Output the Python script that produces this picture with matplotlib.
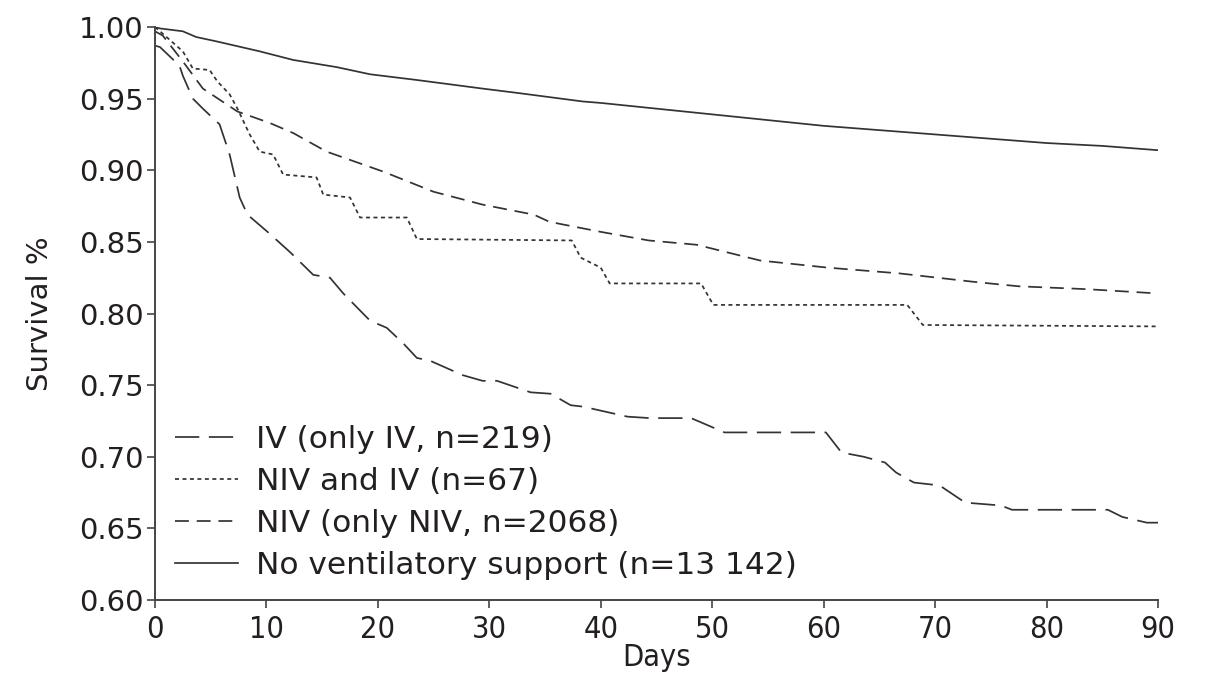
import matplotlib
matplotlib.use("Agg")
import matplotlib.pyplot as plt

# Kaplan-Meier style survival curves
days_none = [0, 0.45, 2.5, 3.7, 5.5, 9.4, 12.4, 16.3, 19.3, 23.5, 29.4, 32.5, 38.4, 40,
             45, 50, 55, 60, 65, 70, 75, 80, 85, 90]
surv_none = [1.000, 0.999, 0.997, 0.993, 0.990, 0.983, 0.977, 0.972, 0.967, 0.963, 0.957, 0.954,
             0.948, 0.947, 0.943, 0.939, 0.935, 0.931, 0.928, 0.925, 0.922, 0.919, 0.917, 0.914]

days_niv = [0, 0.7, 2.5, 4.3, 7.4, 10.3, 12.4, 15.4, 20.5, 25, 29.4, 34, 35.4, 40, 44.3,
            48.6, 54.3, 60.4, 66.8, 73.6, 77.5, 83.6, 90]
surv_niv = [0.997, 0.994, 0.976, 0.957, 0.941, 0.933, 0.926, 0.913, 0.899, 0.885, 0.876, 0.869,
            0.864, 0.857, 0.851, 0.848, 0.837, 0.832, 0.828, 0.822, 0.819, 0.817, 0.814]

days_both = [0, 0.45, 2.5, 3.4, 4.9, 5.6, 6.7, 7.4, 8.5, 9.4, 10.6, 11.5, 14.5, 15.1, 17.5,
             18.4, 22.6, 23.5, 37.4, 38.2, 40, 40.8, 49, 50.1, 67.5, 68.9, 90]
surv_both = [1.000, 0.997, 0.983, 0.971, 0.970, 0.962, 0.953, 0.943, 0.925, 0.913, 0.911, 0.897,
             0.895, 0.883, 0.881, 0.867, 0.867, 0.852, 0.851, 0.839, 0.832, 0.821, 0.821, 0.806,
             0.806, 0.792, 0.791]

days_iv = [0, 0.45, 2.2, 2.5, 3.4, 4.3, 5.8, 6.7, 7.6, 8.3, 10.1, 12.1, 14.2, 15.7, 16.9, 19.3,
           20.8, 22.3, 23.5, 24.7, 27.6, 29.4, 30.7, 33.7, 35.5, 37.3, 38.4, 42.4, 44.4, 48.1,
           51.1, 60.2, 61.6, 63.6, 65.5, 66.5, 68.1, 70.4, 72.7, 75.9, 76.9, 85.5, 86.8, 89, 90]
surv_iv = [0.987, 0.986, 0.973, 0.966, 0.950, 0.943, 0.932, 0.911, 0.881, 0.869, 0.857, 0.843,
           0.827, 0.825, 0.814, 0.795, 0.790, 0.779, 0.769, 0.767, 0.757, 0.753, 0.753, 0.745,
           0.744, 0.736, 0.735, 0.728, 0.727, 0.727, 0.717, 0.717, 0.703, 0.700, 0.696, 0.689,
           0.682, 0.680, 0.668, 0.666, 0.663, 0.663, 0.658, 0.654, 0.654]

labels = ["IV (only IV, n=219)", "NIV and IV (n=67)", "NIV (only NIV, n=2068)",
          "No ventilatory support (n=13 142)"]
x_ticks = [0, 10, 20, 30, 40, 50, 60, 70, 80, 90]
y_ticks = [0.60, 0.65, 0.70, 0.75, 0.80, 0.85, 0.90, 0.95, 1.00]

line_col = "#333333"
text_col = "#231f20"
lw = 1.25

fig = plt.figure(figsize=(12.05, 6.8), dpi=100)
ax = fig.add_axes([0.1286, 0.1176, 0.8324, 0.8427])

ax.plot(days_iv, surv_iv, color=line_col, lw=lw, dashes=(14, 5.5), label=labels[0])
ax.plot(days_both, surv_both, color=line_col, lw=lw, dashes=(2.3, 2.0), label=labels[1])
ax.plot(days_niv, surv_niv, color=line_col, lw=lw, dashes=(8, 4.5), label=labels[2])
ax.plot(days_none, surv_none, color=line_col, lw=lw, label=labels[3])

ax.set_xlim(0, 90)
ax.set_ylim(0.60, 1.00)
ax.set_xticks(x_ticks)
ax.set_yticks(y_ticks)
ax.set_yticklabels([f"{v:.2f}" for v in y_ticks], fontsize=21, color=text_col)
ax.set_xticklabels([str(v) for v in x_ticks], fontsize=22, color=text_col,
                   fontstretch="condensed")

for s in ["top", "right"]:
    ax.spines[s].set_visible(False)
for s in ["left", "bottom"]:
    ax.spines[s].set_color("#444444")
    ax.spines[s].set_linewidth(1.4)
ax.tick_params(axis="y", direction="out", length=6, width=1.2, color="#444444", pad=2)
ax.tick_params(axis="x", direction="out", length=6, width=1.2, color="#444444", pad=5)

ax.set_xlabel("Days", fontsize=22, color=text_col, labelpad=-1, fontstretch="condensed")
ax.set_ylabel("Survival %", fontsize=21, color=text_col, labelpad=18)

leg = ax.legend(loc="lower left", bbox_to_anchor=(0.02, 0.035), frameon=False,
                fontsize=22.5, handlelength=2.0, handletextpad=0.6, labelspacing=0.42,
                borderpad=0, borderaxespad=0)
for t in leg.get_texts():
    t.set_color(text_col)

fig.savefig("out.png", dpi=100)
